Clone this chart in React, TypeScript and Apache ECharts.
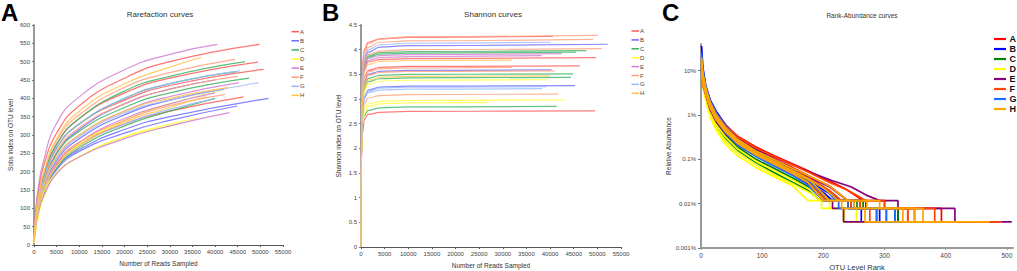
import React, { useEffect, useRef } from 'react';
import * as echarts from 'echarts';

const groups = ['A', 'B', 'C', 'D', 'E', 'F', 'G', 'H'];
const colorsAB = ['#ff5c5c', '#6a6aff', '#3db462', '#ffff3a', '#d07ed0', '#ffa07a', '#9ab8ff', '#ffc34d'];
const colorsC = ['#ff0000', '#0000ff', '#008000', '#ffff00', '#800080', '#ff4500', '#1e6bff', '#ffa500'];

// Panel A: rarefaction (Sobs) curves
const rareX = [0, 500, 1000, 2000, 5000, 10000, 20000, 30000];
const rareCurves = [
  { g: 'A', y: [25, 105, 150, 210, 305, 380, 455, 500], endX: 49800, endY: 547 },
  { g: 'A', y: [20, 95, 135, 185, 275, 345, 415, 455], endX: 49500, endY: 499 },
  { g: 'A', y: [20, 90, 130, 180, 265, 330, 395, 435], endX: 50700, endY: 479 },
  { g: 'A', y: [12, 70, 105, 150, 220, 275, 330, 365], endX: 46300, endY: 404 },
  { g: 'B', y: [15, 80, 118, 165, 250, 315, 385, 425], endX: 40000, endY: 450 },
  { g: 'B', y: [10, 65, 95, 140, 210, 260, 315, 350], endX: 51800, endY: 400 },
  { g: 'B', y: [10, 60, 90, 135, 205, 255, 305, 340], endX: 44900, endY: 379 },
  { g: 'B', y: [12, 70, 105, 150, 230, 290, 355, 395], endX: 42000, endY: 425 },
  { g: 'C', y: [15, 85, 125, 180, 275, 345, 420, 460], endX: 46600, endY: 500 },
  { g: 'C', y: [15, 85, 125, 175, 265, 330, 400, 440], endX: 44800, endY: 473 },
  { g: 'C', y: [15, 80, 118, 165, 250, 310, 375, 415], endX: 47500, endY: 455 },
  { g: 'C', y: [10, 60, 95, 140, 210, 265, 325, 365], endX: 40000, endY: 400 },
  { g: 'D', y: [5, 55, 90, 140, 196, 241, 295, 325], endX: 32600, endY: 332 },
  { g: 'D', y: [8, 55, 90, 140, 215, 275, 340, 385], endX: 41000, endY: 420 },
  { g: 'D', y: [5, 50, 80, 125, 195, 240, 295, 330], endX: 36000, endY: 345 },
  { g: 'E', y: [20, 110, 160, 224, 332, 404, 478, 520], endX: 40500, endY: 547 },
  { g: 'E', y: [15, 75, 110, 160, 240, 300, 365, 405], endX: 45300, endY: 443 },
  { g: 'E', y: [10, 60, 90, 130, 195, 240, 290, 325], endX: 43200, endY: 361 },
  { g: 'E', y: [12, 68, 102, 148, 222, 280, 345, 385], endX: 40000, endY: 415 },
  { g: 'F', y: [20, 95, 135, 190, 285, 355, 430, 470], endX: 44400, endY: 506 },
  { g: 'F', y: [12, 70, 105, 150, 225, 280, 340, 380], endX: 42200, endY: 411 },
  { g: 'F', y: [15, 80, 120, 170, 255, 320, 385, 425], endX: 45000, endY: 460 },
  { g: 'G', y: [15, 80, 120, 175, 265, 330, 400, 440], endX: 45500, endY: 475 },
  { g: 'G', y: [12, 70, 105, 155, 235, 295, 360, 395], endX: 49600, endY: 443 },
  { g: 'G', y: [12, 65, 100, 145, 215, 270, 330, 370], endX: 39600, endY: 398 },
  { g: 'H', y: [15, 90, 130, 190, 290, 365, 440, 485], endX: 37000, endY: 512 },
  { g: 'H', y: [10, 65, 100, 145, 215, 270, 335, 375], endX: 38000, endY: 405 },
  { g: 'H', y: [12, 75, 110, 160, 240, 300, 365, 400], endX: 43000, endY: 430 },
];

// Panel B: Shannon curves
const shanX = [0, 100, 300, 700, 1500, 4000, 10000];
const shanCurves = [
  { g: 'A', y: [0, 2.9, 3.7, 4.0, 4.15, 4.22, 4.25], endX: 40600, endY: 4.27 },
  { g: 'A', y: [0, 2.5, 3.25, 3.6, 3.75, 3.8, 3.82], endX: 49700, endY: 3.84 },
  { g: 'A', y: [0, 2.4, 3.1, 3.45, 3.58, 3.64, 3.66], endX: 46300, endY: 3.67 },
  { g: 'A', y: [0, 1.8, 2.3, 2.58, 2.69, 2.73, 2.75], endX: 49500, endY: 2.76 },
  { g: 'B', y: [0, 2.6, 3.4, 3.8, 3.95, 4.05, 4.08], endX: 52200, endY: 4.11 },
  { g: 'B', y: [0, 2.3, 3.0, 3.35, 3.5, 3.56, 3.58], endX: 40300, endY: 3.59 },
  { g: 'B', y: [0, 2.1, 2.75, 3.05, 3.18, 3.24, 3.26], endX: 45300, endY: 3.27 },
  { g: 'C', y: [0, 2.6, 3.4, 3.72, 3.87, 3.94, 3.96], endX: 47700, endY: 3.98 },
  { g: 'C', y: [0, 2.5, 3.35, 3.7, 3.85, 3.91, 3.93], endX: 45500, endY: 3.95 },
  { g: 'C', y: [0, 2.3, 2.95, 3.28, 3.42, 3.48, 3.5], endX: 44900, endY: 3.51 },
  { g: 'C', y: [0, 2.2, 2.9, 3.2, 3.35, 3.41, 3.43], endX: 44400, endY: 3.44 },
  { g: 'C', y: [0, 1.8, 2.4, 2.66, 2.77, 2.82, 2.84], endX: 41400, endY: 2.85 },
  { g: 'D', y: [0, 2.2, 2.85, 3.15, 3.3, 3.36, 3.38], endX: 39300, endY: 3.39 },
  { g: 'D', y: [0, 1.9, 2.5, 2.78, 2.9, 2.95, 2.97], endX: 43400, endY: 2.98 },
  { g: 'D', y: [0, 1.9, 2.45, 2.73, 2.85, 2.9, 2.92], endX: 27000, endY: 2.93 },
  { g: 'E', y: [0, 2.5, 3.3, 3.65, 3.82, 3.88, 3.9], endX: 42500, endY: 3.92 },
  { g: 'E', y: [0, 2.5, 3.3, 3.62, 3.78, 3.84, 3.86], endX: 38200, endY: 3.88 },
  { g: 'F', y: [0, 2.8, 3.6, 3.95, 4.12, 4.22, 4.26], endX: 50100, endY: 4.29 },
  { g: 'F', y: [0, 2.7, 3.5, 3.85, 4.05, 4.15, 4.18], endX: 49100, endY: 4.21 },
  { g: 'F', y: [0, 2.6, 3.4, 3.75, 3.9, 3.97, 4.0], endX: 50900, endY: 4.02 },
  { g: 'F', y: [0, 2.3, 3.05, 3.4, 3.55, 3.61, 3.63], endX: 31900, endY: 3.64 },
  { g: 'F', y: [0, 2.3, 3.0, 3.33, 3.48, 3.54, 3.56], endX: 41000, endY: 3.57 },
  { g: 'F', y: [0, 2.0, 2.6, 2.9, 3.02, 3.07, 3.09], endX: 41700, endY: 3.1 },
  { g: 'G', y: [0, 2.7, 3.5, 3.85, 4.0, 4.1, 4.13], endX: 40200, endY: 4.15 },
  { g: 'G', y: [0, 2.1, 2.75, 3.03, 3.16, 3.22, 3.24], endX: 39300, endY: 3.25 },
  { g: 'G', y: [0, 2.1, 2.7, 3.0, 3.13, 3.18, 3.2], endX: 38300, endY: 3.21 },
  { g: 'H', y: [0, 2.4, 3.2, 3.55, 3.7, 3.76, 3.78], endX: 31900, endY: 3.79 },
  { g: 'H', y: [0, 2.2, 2.9, 3.25, 3.38, 3.44, 3.46], endX: 40000, endY: 3.47 },
];

// Panel C: rank-abundance curves (relative abundance in %)
const level2 = 0.0078;
const level1 = 0.0039;
const rankCurves = [
  { g: 'A', body: [[1, 15], [3, 8], [8, 4], [15, 2], [25, 1.1], [40, 0.6], [60, 0.33], [90, 0.19], [120, 0.12], [145, 0.085], [175, 0.055], [205, 0.035], [235, 0.022], [265, 0.0117]], r2: 300, r1: 349, n: 420 },
  { g: 'A', body: [[1, 10], [3, 6], [8, 3.2], [15, 1.6], [25, 0.9], [40, 0.5], [60, 0.28], [90, 0.16], [120, 0.1], [150, 0.065], [180, 0.04], [210, 0.025], [240, 0.0117]], r2: 270, r1: 338, n: 400 },
  { g: 'A', body: [[1, 12], [3, 7], [8, 3.5], [15, 1.7], [25, 0.95], [40, 0.5], [60, 0.27], [90, 0.15], [120, 0.095], [150, 0.06], [175, 0.038], [200, 0.024], [225, 0.0117]], r2: 260, r1: 393, n: 450 },
  { g: 'B', body: [[1, 36], [3, 12], [8, 4.5], [15, 2.2], [25, 1.2], [40, 0.6], [60, 0.3], [90, 0.16], [120, 0.095], [150, 0.058], [180, 0.034], [205, 0.02], [225, 0.0117]], r2: 245, r1: 262, n: 400 },
  { g: 'B', body: [[1, 20], [3, 9], [8, 4], [15, 2], [25, 1], [40, 0.5], [60, 0.26], [90, 0.14], [120, 0.085], [150, 0.05], [175, 0.03], [200, 0.018], [215, 0.0117]], r2: 240, r1: 292, n: 380 },
  { g: 'B', body: [[1, 8], [3, 5], [8, 3], [15, 1.6], [25, 0.85], [40, 0.45], [60, 0.24], [90, 0.13], [120, 0.08], [150, 0.05], [180, 0.03], [210, 0.017], [230, 0.0117]], r2: 270, r1: 322, n: 380 },
  { g: 'C', body: [[1, 14], [3, 6], [8, 2.8], [15, 1.2], [25, 0.6], [40, 0.3], [60, 0.16], [90, 0.085], [120, 0.05], [150, 0.03], [175, 0.02], [195, 0.0117]], r2: 240, r1: 317, n: 360 },
  { g: 'C', body: [[1, 10], [3, 5], [8, 2.5], [15, 1.2], [25, 0.65], [40, 0.35], [60, 0.19], [90, 0.1], [120, 0.062], [150, 0.038], [180, 0.022], [205, 0.0117]], r2: 255, r1: 322, n: 370 },
  { g: 'C', body: [[1, 18], [3, 7], [8, 3], [15, 1.4], [25, 0.75], [40, 0.4], [60, 0.22], [90, 0.12], [120, 0.075], [150, 0.045], [180, 0.027], [210, 0.0117]], r2: 265, r1: 303, n: 340 },
  { g: 'D', body: [[1, 12], [3, 5], [8, 2], [15, 0.9], [25, 0.45], [40, 0.22], [60, 0.12], [90, 0.065], [120, 0.04], [150, 0.025], [175, 0.0117]], r2: 197, r1: 233, n: 300 },
  { g: 'D', body: [[1, 9], [3, 4.5], [8, 2.2], [15, 1], [25, 0.5], [40, 0.26], [60, 0.14], [90, 0.075], [120, 0.045], [150, 0.028], [180, 0.017], [195, 0.0117]], r2: 210, r1: 235, n: 330 },
  { g: 'D', body: [[1, 15], [3, 6], [8, 2.6], [15, 1.2], [25, 0.6], [40, 0.32], [60, 0.17], [90, 0.09], [120, 0.055], [150, 0.034], [180, 0.02], [205, 0.0117]], r2: 225, r1: 254, n: 340 },
  { g: 'E', body: [[1, 11], [3, 6], [8, 3.3], [15, 1.7], [25, 0.95], [40, 0.52], [60, 0.3], [90, 0.17], [120, 0.11], [150, 0.075], [180, 0.05], [215, 0.033], [245, 0.024], [270, 0.0156], [292, 0.0117]], r2: 322, r1: 415, n: 508 },
  { g: 'E', body: [[1, 13], [3, 7], [8, 3.5], [15, 1.6], [25, 0.85], [40, 0.45], [60, 0.25], [90, 0.14], [120, 0.09], [150, 0.058], [180, 0.037], [210, 0.024], [240, 0.0117]], r2: 270, r1: 287, n: 350 },
  { g: 'E', body: [[1, 9], [3, 5], [8, 2.8], [15, 1.3], [25, 0.7], [40, 0.38], [60, 0.21], [90, 0.12], [120, 0.075], [150, 0.047], [175, 0.028], [200, 0.0117]], r2: 215, r1: 233, n: 320 },
  { g: 'F', body: [[1, 16], [3, 8], [8, 4], [15, 2], [25, 1.1], [40, 0.58], [60, 0.32], [90, 0.18], [120, 0.115], [150, 0.075], [180, 0.048], [210, 0.03], [240, 0.02], [270, 0.0117]], r2: 300, r1: 382, n: 492 },
  { g: 'F', body: [[1, 12], [3, 6.5], [8, 3.3], [15, 1.6], [25, 0.85], [40, 0.45], [60, 0.25], [90, 0.14], [120, 0.088], [150, 0.055], [180, 0.034], [210, 0.02], [230, 0.0117]], r2: 260, r1: 338, n: 400 },
  { g: 'F', body: [[1, 7], [3, 4.5], [8, 2.8], [15, 1.4], [25, 0.75], [40, 0.4], [60, 0.22], [90, 0.12], [120, 0.075], [150, 0.046], [180, 0.028], [205, 0.0117]], r2: 245, r1: 276, n: 330 },
  { g: 'G', body: [[1, 25], [3, 10], [8, 4.2], [15, 2.1], [25, 1.1], [40, 0.55], [60, 0.28], [90, 0.15], [120, 0.09], [150, 0.055], [180, 0.033], [205, 0.02], [220, 0.0117]], r2: 250, r1: 317, n: 390 },
  { g: 'G', body: [[1, 14], [3, 7], [8, 3.3], [15, 1.5], [25, 0.8], [40, 0.42], [60, 0.23], [90, 0.125], [120, 0.077], [150, 0.048], [180, 0.029], [210, 0.0117]], r2: 240, r1: 287, n: 350 },
  { g: 'G', body: [[1, 9], [3, 5.5], [8, 3], [15, 1.5], [25, 0.78], [40, 0.4], [60, 0.21], [90, 0.115], [120, 0.07], [150, 0.043], [175, 0.026], [200, 0.0117]], r2: 225, r1: 303, n: 350 },
  { g: 'H', body: [[1, 20], [3, 9], [8, 4], [15, 1.9], [25, 1], [40, 0.52], [60, 0.28], [90, 0.155], [120, 0.098], [150, 0.062], [180, 0.04], [210, 0.025], [240, 0.0117]], r2: 292, r1: 363, n: 472 },
  { g: 'H', body: [[1, 10], [3, 6], [8, 3.5], [15, 1.7], [25, 0.9], [40, 0.47], [60, 0.26], [90, 0.14], [120, 0.088], [150, 0.055], [180, 0.034], [205, 0.02], [225, 0.0117]], r2: 271, r1: 330, n: 420 },
  { g: 'H', body: [[1, 15], [3, 7], [8, 3.2], [15, 1.5], [25, 0.8], [40, 0.42], [60, 0.23], [90, 0.125], [120, 0.078], [150, 0.048], [175, 0.03], [200, 0.0117]], r2: 230, r1: 268, n: 360 },
  { g: 'H', body: [[1, 8], [3, 5], [8, 2.9], [15, 1.45], [25, 0.78], [40, 0.43], [60, 0.24], [90, 0.13], [120, 0.082], [150, 0.052], [180, 0.032], [210, 0.0117]], r2: 250, r1: 349, n: 400 },
];

const yTicksC = ['10%', '1%', '0.1%', '0.01%', '0.001%'];
const FONT = 'Liberation Sans, Arial, sans-serif';

function buildOption() {
  const series: any[] = [];
  const gi = (g: string) => groups.indexOf(g);

  groups.forEach((g) => {
    rareCurves.filter((c) => c.g === g).forEach((c) => {
      const col = colorsAB[gi(g)];
      series.push({
        type: 'line', name: g, xAxisIndex: 0, yAxisIndex: 0,
        data: [...rareX.map((x, i) => [x, c.y[i]]), [c.endX, c.endY]],
        smooth: 0.5, showSymbol: false, silent: true,
        color: col, itemStyle: { color: col },
        lineStyle: { width: 1.2, color: col, opacity: 0.85 },
      });
    });
  });
  groups.forEach((g) => {
    shanCurves.filter((c) => c.g === g).forEach((c) => {
      const col = colorsAB[gi(g)];
      series.push({
        type: 'line', name: 'b' + g, xAxisIndex: 1, yAxisIndex: 1,
        data: [...shanX.map((x, i) => [x, c.y[i]]), [c.endX, c.endY]],
        smooth: 0.4, smoothMonotone: 'x', showSymbol: false, silent: true,
        color: col, itemStyle: { color: col },
        lineStyle: { width: 1.2, color: col, opacity: 0.8 },
      });
    });
  });
  groups.forEach((g) => {
    rankCurves.filter((c) => c.g === g).forEach((c) => {
      const col = colorsC[gi(g)];
      const last = c.body[c.body.length - 1];
      const data = [
        ...c.body,
        [c.r2, last[1]], [c.r2, level2], [c.r1, level2], [c.r1, level1], [c.n, level1],
      ];
      series.push({
        type: 'line', name: 'c' + g, xAxisIndex: 2, yAxisIndex: 2,
        data, showSymbol: false, silent: true,
        color: col, itemStyle: { color: col },
        lineStyle: { width: 1.7, color: col },
      });
    });
  });

  const plainNum = (v: number) => String(v);
  const axisLabelAB = { fontSize: 6, color: '#444', fontFamily: FONT, margin: 4, formatter: plainNum };
  const legendAB = (left: number, top: number, prefix: string, gap: number) => ({
    orient: 'vertical', left, top, padding: 0, icon: 'rect', itemWidth: 7.5, itemHeight: 1.5, itemGap: gap,
    data: groups.map((g) => prefix + g),
    formatter: (n: string) => n.slice(-1),
    textStyle: { fontSize: 6, lineHeight: 6, color: '#444', fontFamily: FONT, padding: [0, 0, 0, -4] },
    selectedMode: false,
  });
  const letter = (t: string, left: number) => ({
    text: t, left, top: 0, padding: 0,
    textStyle: { fontSize: 24, fontWeight: 'bold', color: '#000', fontFamily: FONT },
  });
  const head = (t: string, left: number, top: number, size: number) => ({
    text: t, left, top, padding: 0, textAlign: 'center',
    textStyle: { fontSize: size, fontWeight: 'normal', color: '#333', fontFamily: FONT },
  });

  return {
    animation: false,
    backgroundColor: '#fff',
    title: [
      letter('A', 1), letter('B', 322), letter('C', 662),
      head('Rarefaction curves', 160, 10.5, 8),
      head('Shannon curves', 493, 10.5, 8),
      head('Rank-Abundance curves', 862, 11.5, 6.5),
    ],
    legend: [
      legendAB(291.5, 28.7, '', 3.1),
      legendAB(631.5, 28, 'b', 2.9),
      {
        orient: 'vertical', left: 994, top: 34.5, padding: 0, icon: 'rect', itemWidth: 12, itemHeight: 2.2, itemGap: 1,
        data: groups.map((g) => 'c' + g),
        formatter: (n: string) => n.slice(-1),
        textStyle: { fontSize: 9, lineHeight: 9, fontWeight: 'bold', color: '#111', fontFamily: FONT, padding: [0, 0, 0, -1.5] },
        selectedMode: false,
      },
    ],
    grid: [
      { left: 34, top: 25, width: 249, height: 220, outerBoundsMode: 'none', containLabel: false },
      { left: 361, top: 25, width: 260, height: 222, outerBoundsMode: 'none', containLabel: false },
      { left: 701, top: 44, width: 312, height: 204, outerBoundsMode: 'none', containLabel: false },
    ],
    xAxis: [
      {
        type: 'value', gridIndex: 0, min: 0, max: 55000, interval: 5000,
        name: 'Number of Reads Sampled', nameLocation: 'middle', nameGap: 15,
        nameTextStyle: { fontSize: 6.5, color: '#333', fontFamily: FONT },
        axisLine: { lineStyle: { color: '#555', width: 1 } },
        axisTick: { length: 2, lineStyle: { color: '#555' } },
        axisLabel: axisLabelAB, splitLine: { show: false },
      },
      {
        type: 'value', gridIndex: 1, min: 0, max: 55000, interval: 5000,
        name: 'Number of Reads Sampled', nameLocation: 'middle', nameGap: 14,
        nameTextStyle: { fontSize: 6.5, color: '#333', fontFamily: FONT },
        axisLine: { lineStyle: { color: '#555', width: 1 } },
        axisTick: { length: 2, lineStyle: { color: '#555' } },
        axisLabel: axisLabelAB, splitLine: { show: false },
      },
      {
        type: 'value', gridIndex: 2, min: 0, max: 510, interval: 100,
        name: 'OTU Level Rank', nameLocation: 'middle', nameGap: 14,
        nameTextStyle: { fontSize: 7.5, color: '#333', fontFamily: FONT },
        axisLine: { lineStyle: { color: '#9a9a9a', width: 2 } },
        axisTick: { length: 2, lineStyle: { color: '#9a9a9a' } },
        axisLabel: { fontSize: 6.5, color: '#444', fontFamily: FONT, margin: 4 },
        splitLine: { show: false },
      },
    ],
    yAxis: [
      {
        type: 'value', gridIndex: 0, min: 0, max: 600, interval: 50,
        name: 'Sobs index on OTU level', nameLocation: 'middle', nameGap: 20,
        nameTextStyle: { fontSize: 6.5, color: '#333', fontFamily: FONT },
        axisLine: { show: true, lineStyle: { color: '#9a9a9a', width: 2 } },
        axisTick: { show: true, length: 2, lineStyle: { color: '#777' } },
        axisLabel: axisLabelAB, splitLine: { show: false },
      },
      {
        type: 'value', gridIndex: 1, min: 0, max: 4.5, interval: 0.5,
        name: 'Shannon index on OTU level', nameLocation: 'middle', nameGap: 19,
        nameTextStyle: { fontSize: 6.5, color: '#333', fontFamily: FONT },
        axisLine: { show: true, lineStyle: { color: '#9a9a9a', width: 2 } },
        axisTick: { show: true, length: 2, lineStyle: { color: '#777' } },
        axisLabel: axisLabelAB, splitLine: { show: false },
      },
      {
        type: 'log', logBase: 10, gridIndex: 2, min: 0.001, max: 40,
        name: 'Relative Abundance', nameLocation: 'middle', nameGap: 28,
        nameTextStyle: { fontSize: 6.5, color: '#333', fontFamily: FONT },
        axisLine: { show: true, lineStyle: { color: '#9a9a9a', width: 2 } },
        axisTick: { show: true, length: 3, lineStyle: { color: '#777' } },
        axisLabel: {
          fontSize: 6, color: '#444', fontFamily: FONT, margin: 5, showMaxLabel: false,
          formatter: (v: number) => {
            const map: Record<string, string> = { '10': yTicksC[0], '1': yTicksC[1], '0.1': yTicksC[2], '0.01': yTicksC[3], '0.001': yTicksC[4] };
            const key = String(parseFloat(v.toPrecision(6)));
            return map[key] ?? '';
          },
        },
        splitLine: { show: false },
      },
    ],
    series,
  };
}

export default function App() {
  const ref = useRef<HTMLDivElement>(null);
  useEffect(() => {
    document.body.style.margin = '0';
    if (!ref.current) return;
    const chart = echarts.init(ref.current, null, { renderer: 'svg' });
    chart.setOption(buildOption() as any);
    return () => chart.dispose();
  }, []);
  return <div ref={ref} style={{ width: 1017, height: 271, position: 'absolute', left: 0, top: 0, background: '#fff' }} />;
}
